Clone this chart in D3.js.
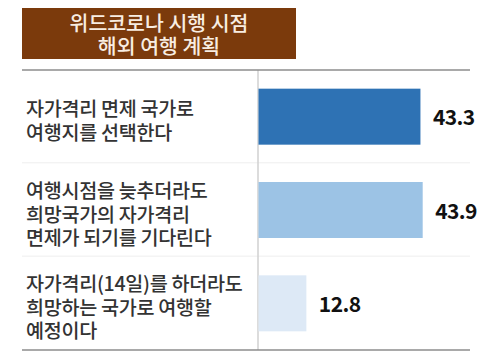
<!DOCTYPE html>
<html>
<head>
<meta charset="utf-8">
<script src="https://cdn.jsdelivr.net/npm/d3@7"></script>
<style>
  body { margin: 0; background: #fff; }
  svg { display: block; font-family: "Noto Sans CJK KR", sans-serif; }
</style>
</head>
<body>
<svg id="chart" width="493" height="364"></svg>
<script>
// title lines
const titleLines = ["위드코로나 시행 시점", "해외 여행 계획"]

// categories (one entry per line of label) and values
const categories = [
  ["자가격리 면제 국가로", "여행지를 선택한다"],
  ["여행시점을 늦추더라도", "희망국가의 자가격리", "면제가 되기를 기다린다"],
  ["자가격리(14일)를 하더라도", "희망하는 국가로 여행할", "예정이다"]
]
const values = [43.3, 43.9, 12.8]
const colors = ["#2e72b4", "#9cc3e5", "#dde9f6"]

const svg = d3.select("#chart")

// title box
svg.append("rect")
  .attr("x", 22).attr("y", 8)
  .attr("width", 274).attr("height", 51)
  .attr("fill", "#7b3a0c")

svg.append("g")
  .selectAll("text")
  .data(titleLines)
  .join("text")
  .attr("x", 159)
  .attr("y", (d, i) => 31 + i * 22.5)
  .attr("text-anchor", "middle")
  .attr("font-size", 20.5)
  .attr("font-weight", 500)
  .attr("fill", "#f8ede2")
  .text(d => d)

//rows
const y = d3.scaleBand()
  .domain(d3.range(categories.length))
  .range([70, 350])

const x = d3.scaleLinear()
  .domain([0, 50])
  .range([258, 445])

const barPad = y.bandwidth() * 0.2

// row separators
svg.append("g")
  .selectAll("line")
  .data(d3.range(1, categories.length))
  .join("line")
  .attr("x1", 22).attr("x2", 470)
  .attr("y1", d => y(d) - 0.5).attr("y2", d => y(d) - 0.5)
  .attr("stroke", "#eeeeee")
  .attr("stroke-width", 1)

// vertical axis
svg.append("line")
  .attr("x1", x(0)).attr("x2", x(0))
  .attr("y1", 70).attr("y2", 350)
  .attr("stroke", "#d0d0d0")
  .attr("stroke-width", 1.5)

// top and bottom rules
svg.append("g")
  .selectAll("line")
  .data([70, 350])
  .join("line")
  .attr("x1", 22).attr("x2", 470)
  .attr("y1", d => d).attr("y2", d => d)
  .attr("stroke", "#8c8c8c")
  .attr("stroke-width", 1.5)

// bars
svg.append("g")
  .selectAll("rect")
  .data(values)
  .join("rect")
  .attr("x", x(0) + 0.5)
  .attr("y", (d, i) => y(i) + barPad)
  .attr("width", d => x(d) - x(0))
  .attr("height", y.bandwidth() - 2 * barPad)
  .attr("fill", (d, i) => colors[i])

// value labels
svg.append("g")
  .selectAll("text")
  .data(values)
  .join("text")
  .attr("x", d => x(d) + 13)
  .attr("y", (d, i) => y(i) + y.bandwidth() / 2 + 8.5)
  .attr("font-family", "'Liberation Sans Narrow', 'Noto Sans CJK KR', sans-serif")
  .attr("font-size", 21)
  .attr("font-weight", "bold")
  .attr("letter-spacing", -0.6)
  .attr("fill", "#111")
  .text(d => d.toFixed(1))

// category labels
const lineH = 23.5
svg.append("g")
  .selectAll("text")
  .data(categories)
  .join("text")
  .attr("x", 26)
  .attr("y", (d, i) => y(i) + y.bandwidth() / 2 + 11.5 - (d.length - 1) * lineH / 2)
  .attr("font-size", 19.6)
  .attr("font-weight", 500)
  .attr("letter-spacing", -0.3)
  .attr("fill", "#333")
  .each(function (d) {
    d3.select(this)
      .selectAll("tspan")
      .data(d)
      .join("tspan")
      .attr("x", 26)
      .attr("dy", (t, j) => j === 0 ? 0 : lineH)
      .text(t => t)
  })
</script>
</body>
</html>
